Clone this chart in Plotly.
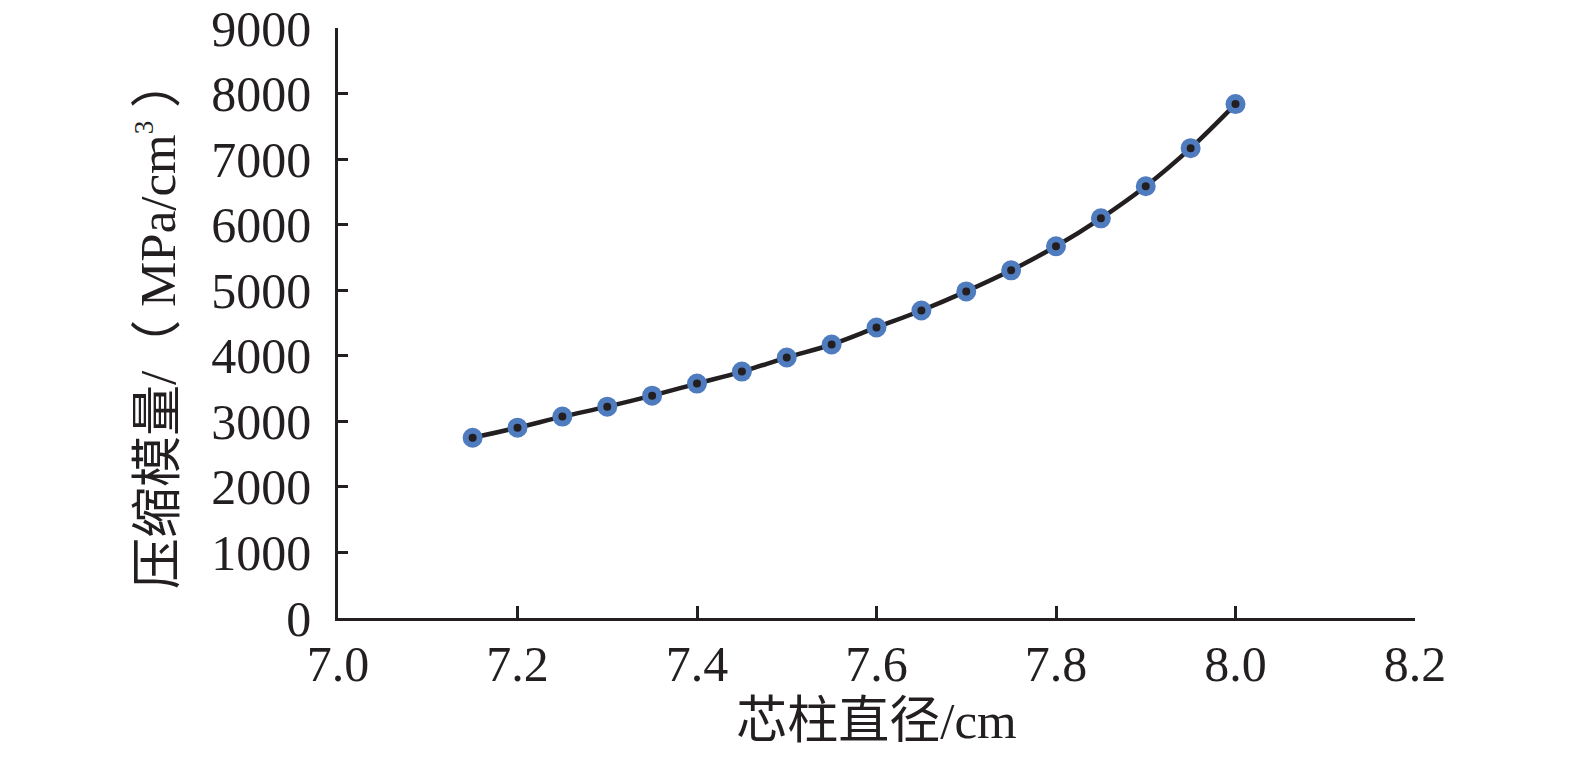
import plotly.graph_objects as go

diameter_cm = [7.15, 7.20, 7.25, 7.30, 7.35, 7.40, 7.45, 7.50, 7.55, 7.60,
               7.65, 7.70, 7.75, 7.80, 7.85, 7.90, 7.95, 8.00]
modulus = [2750, 2903, 3072, 3224, 3392, 3576, 3759, 3973, 4172, 4432,
           4691, 4982, 5303, 5670, 6097, 6586, 7167, 7839]

x_ticks = [7.0, 7.2, 7.4, 7.6, 7.8, 8.0, 8.2]
x_tick_labels = ["7.0", "7.2", "7.4", "7.6", "7.8", "8.0", "8.2"]
y_ticks = [0, 1000, 2000, 3000, 4000, 5000, 6000, 7000, 8000, 9000]

x_title = "芯柱直径/cm"
y_title = "压缩模量/（ MPa/cm<sup><span style='font-size:27px'>3</span></sup> ）"

FONT = "'Liberation Serif', 'Times New Roman', 'Noto Sans CJK SC', serif"
INK = "#231f20"

fig = go.Figure()
fig.add_trace(go.Scatter(
    x=diameter_cm, y=modulus, mode="lines",
    line=dict(color=INK, width=4.5, shape="spline"),
    hoverinfo="skip", showlegend=False))
fig.add_trace(go.Scatter(
    x=diameter_cm, y=modulus, mode="markers",
    marker=dict(color=INK, size=14, line=dict(color="#4f7bbf", width=6)),
    showlegend=False))

fig.update_layout(
    width=1575, height=759,
    paper_bgcolor="white", plot_bgcolor="white",
    margin=dict(l=330, r=168, t=20, b=149),
    font=dict(family=FONT, color=INK, size=50),
    xaxis=dict(
        range=[7.0, 8.2], tickvals=x_ticks, ticktext=x_tick_labels,
        showgrid=False, zeroline=False, showline=True, linecolor=INK, linewidth=2.5,
        ticks="inside", ticklen=12, tickwidth=2.5, tickcolor=INK,
        tickfont=dict(size=50, family=FONT, color=INK),
        ticklabeloverflow="allow",
        automargin=False,
        title=dict(text=x_title, font=dict(size=51, family=FONT, color=INK), standoff=12),
    ),
    yaxis=dict(
        range=[0, 9000], tickvals=y_ticks,
        showgrid=False, zeroline=False, showline=True, linecolor=INK, linewidth=2.5,
        ticks="inside", ticklen=10, tickwidth=2.5, tickcolor=INK,
        tickfont=dict(size=50, family=FONT, color=INK),
        ticklabelstandoff=14,
        ticklabeloverflow="allow",
        automargin=False,
        title=dict(text=y_title, font=dict(size=51, family=FONT, color=INK), standoff=20),
    ),
)

fig.write_html("out.html")
